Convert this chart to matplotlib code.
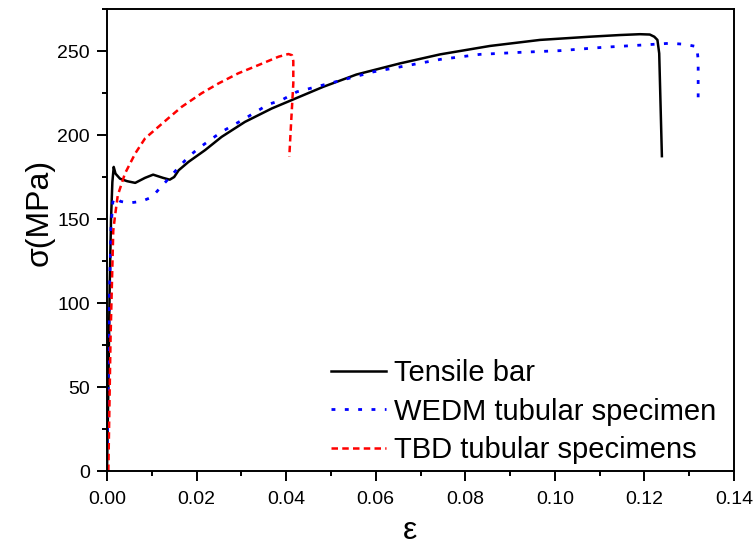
import matplotlib
matplotlib.use('Agg')
import matplotlib.pyplot as plt
from matplotlib.ticker import MultipleLocator, FormatStrFormatter

plt.rcParams['font.family'] = ['Liberation Sans', 'DejaVu Sans']

# Tensile bar (solid black)
bar_strain = [0, 0.0003, 0.0006, 0.0009, 0.0012, 0.0015, 0.0019, 0.0029, 0.0045,
              0.0063, 0.0085, 0.0103, 0.0125, 0.0140, 0.0150, 0.0160, 0.0182,
              0.0219, 0.0256, 0.0308, 0.0368, 0.0409, 0.0483, 0.0557, 0.0654,
              0.0744, 0.0855, 0.0967, 0.1078, 0.1145, 0.1190, 0.1212, 0.1222,
              0.1229, 0.1233, 0.1239]
bar_stress = [0, 50, 110, 150, 172, 181, 177, 174, 172.5,
              171.5, 174.5, 176.4, 174.5, 173.4, 175, 179, 184,
              191, 198.9, 207.8, 215.8, 220.4, 228.7, 236, 242.6,
              248, 253, 256.6, 258.5, 259.5, 260, 259.8, 258.5,
              256.6, 248.6, 187.4]

# WEDM tubular specimen (blue dotted)
wedm_strain = [0, 0.0002, 0.0005, 0.0009, 0.0013, 0.0018, 0.0030, 0.0048, 0.0077,
               0.0100, 0.0122, 0.0141, 0.0159, 0.0182, 0.0204, 0.0230, 0.0256,
               0.0308, 0.0360, 0.0390, 0.0424, 0.0505, 0.0595, 0.0684, 0.0744,
               0.0833, 0.0922, 0.1011, 0.1108, 0.1198, 0.1257, 0.1290, 0.1317,
               0.1320, 0.1320]
wedm_stress = [0, 40, 100, 145, 160, 163, 160.5, 159.5, 160.5,
               163, 169.5, 175, 180.5, 187, 192, 197, 201.9,
               209.8, 218.2, 220.8, 225.7, 231.3, 237.6, 242, 245,
               248, 249.2, 250.2, 252.2, 253.6, 254.6, 254, 252.6,
               244.6, 220]

# TBD tubular specimens (red dashed)
tbd_strain = [0.0003, 0.0008, 0.0014, 0.0018, 0.0024, 0.0040, 0.0063, 0.0085,
              0.0111, 0.0137, 0.0167, 0.0211, 0.0249, 0.0293, 0.0338, 0.0383,
              0.0405, 0.0413, 0.0416, 0.0416, 0.0411, 0.0407]
tbd_stress = [0, 80, 143, 152, 164, 177, 189, 198,
              204, 210, 216.8, 224.8, 230.7, 236.7, 241.6, 246.6,
              248.2, 247.5, 244, 230.7, 206.9, 187]

fig = plt.figure(figsize=(7.54, 5.45), dpi=100)
ax = fig.add_axes([107 / 754, (545 - 471) / 545, (734 - 107) / 754, (471 - 9) / 545])

ax.plot(bar_strain, bar_stress, color='black', lw=1.8, label='Tensile bar')
ax.plot(wedm_strain, wedm_stress, color='blue', lw=2.0, linestyle=(0, (1.4, 3.4)),
        label='WEDM tubular specimen')
ax.plot(tbd_strain, tbd_stress, color='red', lw=1.8, linestyle=(0, (2.6, 1.7)),
        label='TBD tubular specimens')

ax.set_xlim(0, 0.14)
ax.set_ylim(0, 275)
ax.xaxis.set_major_locator(MultipleLocator(0.02))
ax.xaxis.set_minor_locator(MultipleLocator(0.01))
ax.xaxis.set_major_formatter(FormatStrFormatter('%.2f'))
ax.yaxis.set_major_locator(MultipleLocator(50))
ax.yaxis.set_minor_locator(MultipleLocator(25))

ax.tick_params(which='both', direction='out', top=False, right=False, width=1.4)
ax.tick_params(which='major', length=7.5, labelsize=14)
ax.tick_params(axis='x', which='major', pad=7)
ax.tick_params(axis='y', which='major', pad=5)
ax.tick_params(which='minor', length=3.8)
for sp in ax.spines.values():
    sp.set_linewidth(1.4)

ax.set_xlabel('ε', fontsize=23, va='center')
ax.xaxis.set_label_coords(0.483, -0.13)
ax.set_ylabel('σ(MPa)', fontsize=23, va='center')
ax.yaxis.set_label_coords(-0.107, 0.56)

ax.legend(loc='upper left', bbox_to_anchor=((331 - 107) / 627, (471 - 359) / 462),
          frameon=False, fontsize=21, handlelength=1.9, handletextpad=0.26,
          labelspacing=0.36, borderpad=0, borderaxespad=0)

fig.savefig('out.png', dpi=100)
